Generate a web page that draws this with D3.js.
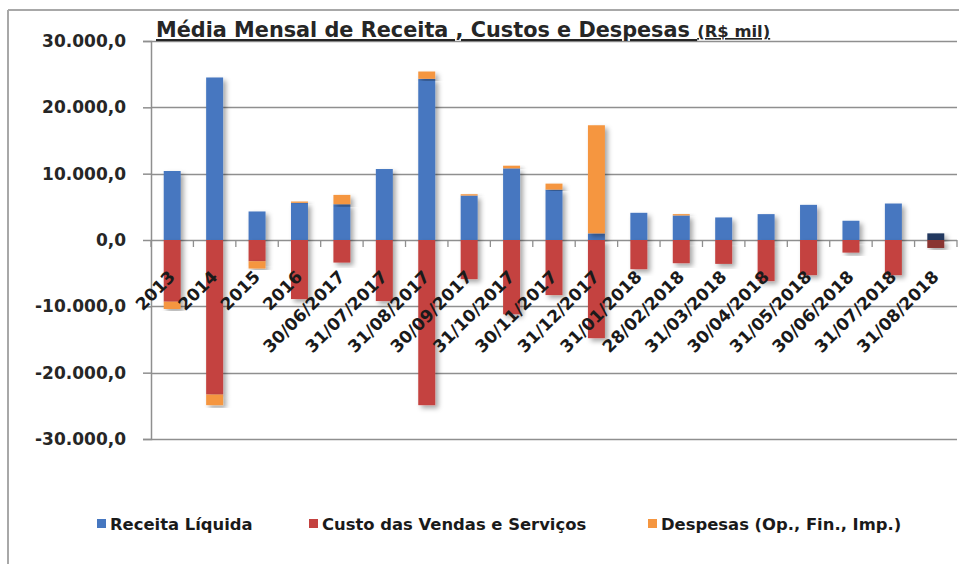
<!DOCTYPE html>
<html><head><meta charset="utf-8">
<script src="https://cdn.jsdelivr.net/npm/d3@7"></script>
<style>
html,body{margin:0;padding:0;background:#fff;}
svg{display:block;font-family:"DejaVu Sans",sans-serif;}
</style></head><body>
<svg id="chart" width="959" height="564"></svg>
<script>
const categories = ["2013","2014","2015","2016","30/06/2017","31/07/2017","31/08/2017","30/09/2017","31/10/2017","30/11/2017","31/12/2017","31/01/2018","28/02/2018","31/03/2018","30/04/2018","31/05/2018","30/06/2018","31/07/2018","31/08/2018"];
const receita  = [10400,24500,4300,5600,5400,10700,24300,6700,10800,7600,1000,4100,3700,3400,3900,5300,2900,5500,1000];
const custo    = [-9300,-23300,-3200,-8900,-3400,-9200,-24900,-5900,-11200,-8300,-14800,-4400,-3500,-3600,-6200,-5300,-1900,-5300,-1200];
const despesas = [-1100,-1600,-1100,200,1400,0,1100,200,400,900,16300,0,200,0,0,0,0,0,0];
const yTicks = [-30000,-20000,-10000,0,10000,20000,30000];
const seriesNames = ["Receita Líquida","Custo das Vendas e Serviços","Despesas (Op., Fin., Imp.)"];
const titleMain = "Média Mensal de Receita , Custos e Despesas ";
const titleUnit = "(R$ mil)";
const highlightCategory = "31/08/2018";

const keys = ["receita","custo","despesas"];
const colors = {receita:"#4677c0", custo:"#c4423f", despesas:"#f59640"};
const darkColors = {receita:"#22385f", custo:"#8a3431", despesas:"#b8692a"};

const rows = categories.map((c,i)=>({cat:c, receita:receita[i], custo:custo[i], despesas:despesas[i]}));
const stacked = d3.stack().keys(keys).offset(d3.stackOffsetDiverging)(rows);

const svg = d3.select("#chart");
const x = d3.scaleBand().domain(categories).range([151,957]).padding(0);
const y = d3.scaleLinear().domain([-30000,30000]).range([439,41]);
const barW = x.bandwidth()*0.4;

const loc = d3.formatLocale({decimal:",", thousands:".", grouping:[3], currency:["R$",""], minus:"-"});
const fmt = loc.format(",.1f");

const defs = svg.append("defs");
const f = defs.append("filter").attr("id","sh").attr("x","-60%").attr("y","-20%").attr("width","220%").attr("height","140%");
f.append("feDropShadow").attr("dx",3).attr("dy",3).attr("stdDeviation",2.5).attr("flood-color","#000").attr("flood-opacity",0.35);

// frame
svg.append("line").attr("x1",8).attr("x2",959).attr("y1",10).attr("y2",10).attr("stroke","#a8a8a8").attr("stroke-width",2);
svg.append("line").attr("x1",8).attr("x2",8).attr("y1",10).attr("y2",564).attr("stroke","#a8a8a8").attr("stroke-width",2);

// gridlines
svg.append("g").selectAll("line").data(yTicks).join("line")
  .attr("x1",151).attr("x2",957).attr("y1",d=>Math.round(y(d))+0.5).attr("y2",d=>Math.round(y(d))+0.5)
  .attr("stroke","#8f8f8f").attr("stroke-width",1.5);

// y axis
const yAxis = svg.append("g").attr("transform","translate(151,0)")
  .call(d3.axisLeft(y).tickValues(yTicks).tickFormat(fmt).tickSize(8).tickPadding(17));
yAxis.select(".domain").attr("stroke","#8f8f8f").attr("stroke-width",1.5);
yAxis.selectAll(".tick line").attr("stroke","#8f8f8f").attr("stroke-width",1.5);
yAxis.selectAll(".tick text").attr("font-family","DejaVu Sans").attr("font-weight","bold").attr("font-size",17).attr("fill","#262626");

// x category ticks on zero line
const boundaries = categories.map(c=>x(c)).concat([x(categories[categories.length-1])+x.bandwidth()]);
svg.append("g").selectAll("line").data(boundaries).join("line")
  .attr("x1",d=>d).attr("x2",d=>d).attr("y1",y(0)).attr("y2",y(0)+7)
  .attr("stroke","#8f8f8f").attr("stroke-width",1.3);

// bars
const gBars = svg.append("g");
stacked.forEach(s=>{
  gBars.append("g").selectAll("rect").data(s).join("rect")
    .attr("x",d=>x(d.data.cat)+(x.bandwidth()-barW)/2)
    .attr("width",barW)
    .attr("y",d=>y(Math.max(d[0],d[1])))
    .attr("height",d=>Math.abs(y(d[0])-y(d[1])))
    .attr("fill",d=>d.data.cat===highlightCategory?darkColors[s.key]:colors[s.key])
    .attr("filter","url(#sh)");
});

// x labels
svg.append("g").selectAll("text").data(categories).join("text")
  .attr("transform",d=>`translate(${x(d)+x.bandwidth()/2+4},${278}) rotate(-45)`)
  .attr("text-anchor","end")
  .attr("font-family","DejaVu Sans").attr("font-weight","bold").attr("font-size",17).attr("fill","#1a1a1a")
  .text(d=>d);

// title
const t = svg.append("text").attr("x",156).attr("y",37)
  .attr("font-family","DejaVu Sans").attr("font-weight","bold").attr("fill","#262626")
  .attr("text-decoration","underline");
t.append("tspan").attr("font-size",20.8).text(titleMain);
t.append("tspan").attr("font-size",16.4).text(titleUnit);

// legend
const legX = [97, 309, 648];
const leg = svg.append("g").selectAll("g").data(keys).join("g")
  .attr("transform",(d,i)=>`translate(${legX[i]},519)`);
leg.append("rect").attr("width",9).attr("height",9).attr("fill",d=>colors[d]);
leg.append("text").attr("x",13).attr("y",11)
  .attr("font-family","DejaVu Sans").attr("font-weight","bold").attr("font-size",16.4).attr("fill","#1a1a1a")
  .text((d,i)=>seriesNames[i]);
</script>
</body></html>
